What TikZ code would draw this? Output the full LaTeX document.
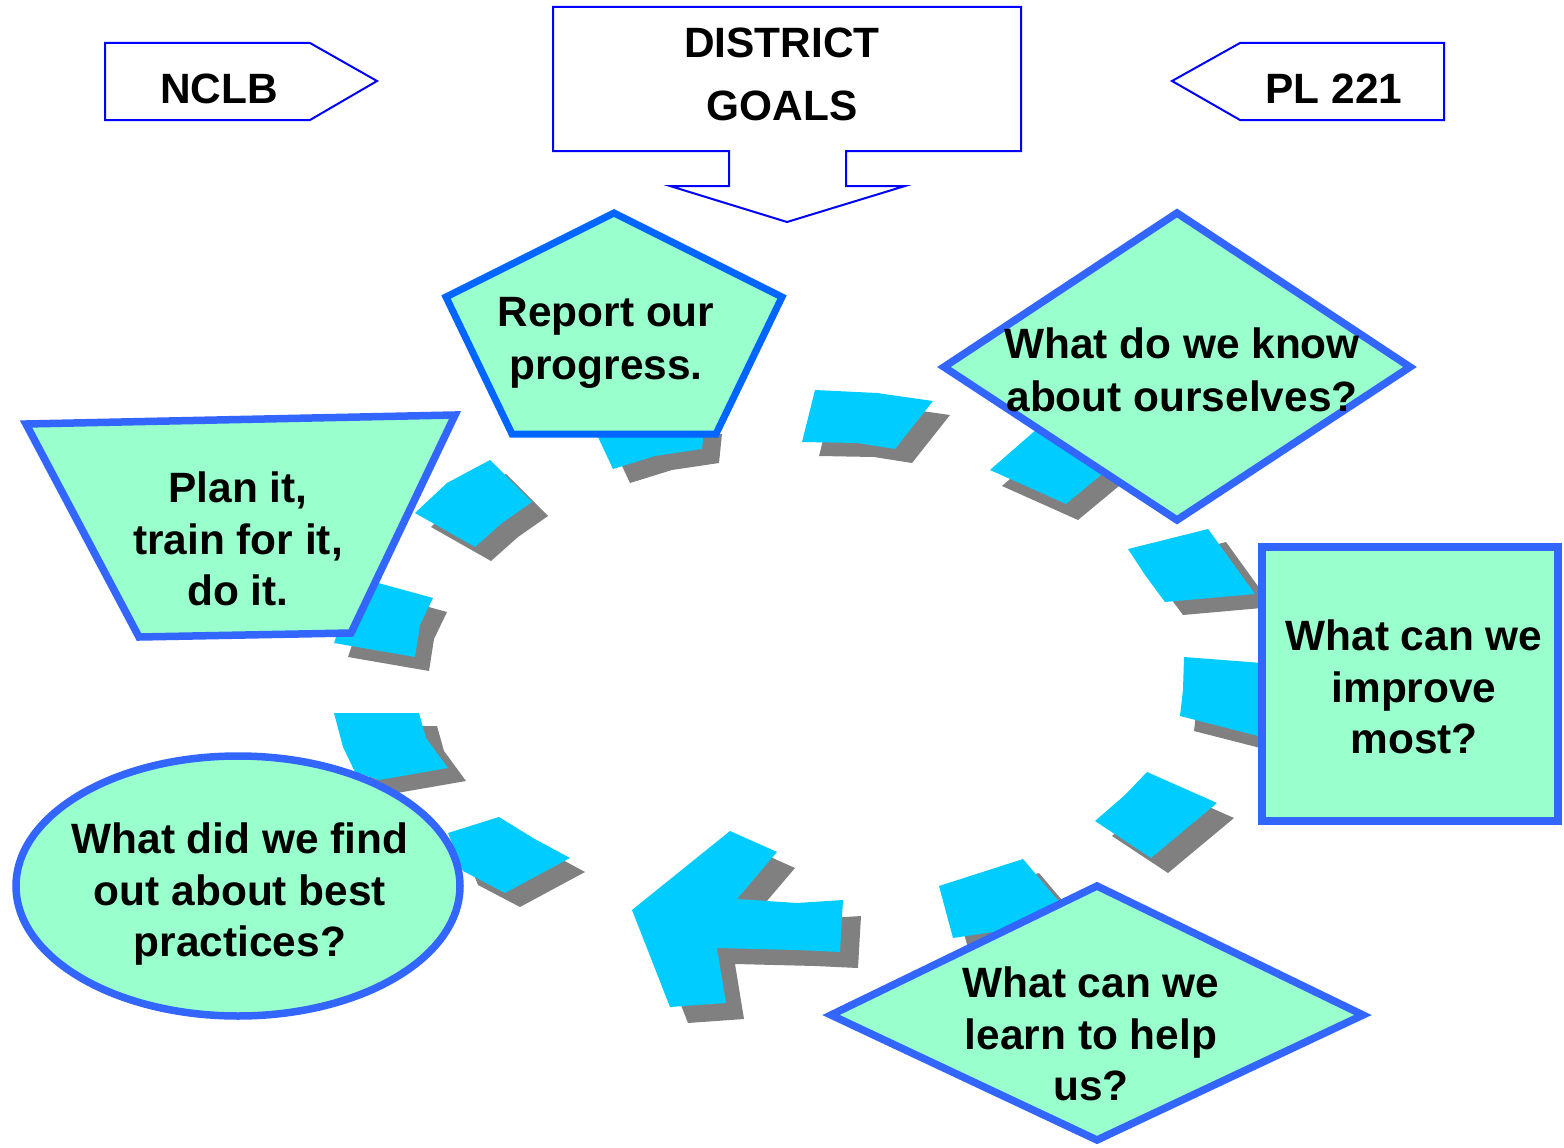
\documentclass[tikz,border=0pt]{standalone}
\usepackage{fontspec}
\setmainfont{Liberation Sans}
\definecolor{mint}{HTML}{99FFCC}
\definecolor{bord}{HTML}{3366FF}
\definecolor{pentbord}{HTML}{0066FF}
\definecolor{cyanc}{HTML}{00CCFF}
\definecolor{shad}{HTML}{808080}
\definecolor{thinblue}{HTML}{0000FF}
\newcommand\cseg[3]{\fill[shad,shift={(#1,#2)}] #3; \fill[cyanc] #3;}
\begin{document}
\begin{tikzpicture}[x=1pt,y=-1pt,
  lbl/.style={font=\fontsize{42.4}{52}\selectfont\bfseries, anchor=base, inner sep=0pt},
  topshape/.style={draw=thinblue, line width=2pt, fill=white},
  cyc/.style={draw=bord, line width=7.5pt, fill=mint},
  pent/.style={draw=pentbord, line width=7pt, fill=mint}]
\useasboundingbox (0,0) rectangle (1564,1148);
\fill[white] (0,0) rectangle (1564,1148);

% top shapes
\draw[topshape] (105,43) -- (310,43) -- (377,81) -- (310,120) -- (105,120) -- cycle;
\draw[topshape] (1444,43) -- (1240,43) -- (1172,81) -- (1240,120) -- (1444,120) -- cycle;
\draw[topshape] (553,7) -- (1021,7) -- (1021,151) -- (846,151) -- (846,186) -- (905,186) -- (787,222) -- (670,186) -- (729,186) -- (729,151) -- (553,151) -- cycle;
\node[lbl] (nclb) at (219,103) {NCLB};
\node[lbl] (pl) at (1334,103) {PL 221};
\node[lbl] (dist1) at (782,58) {DISTRICT};
\node[lbl] (dist2) at (782,120) {GOALS};

% cycle segments
\cseg{17}{14}{(590,420) -- (705,420) -- (702,449) -- (655,456) -- (613,469) -- cycle}
\cseg{17}{14}{(815,390) -- (877,393) -- (933,401) -- (895,449) -- (857,443) -- (802,442) -- cycle}
\cseg{12}{16}{(990,470) -- (1045,422) -- (1125,455) -- (1066,504) -- cycle}
\cseg{18}{13}{(1128,549) -- (1208,529) -- (1255,594) -- (1165,602) -- (1145,575) -- cycle}
\cseg{14}{15}{(1184,657) -- (1262,663) -- (1262,737) -- (1180,716) -- (1183,690) -- cycle}
\cseg{17}{15}{(1147,772) -- (1217,803) -- (1151,858) -- (1095,821) -- (1125,795) -- cycle}
\cseg{16}{14}{(939,886) -- (1023,859) -- (1062,905) -- (1040,925) -- (953,938) -- cycle}
\cseg{18}{16}{(632,910) -- (730,831) -- (777,852) -- (737,899) -- (797,903) -- (843,900) -- (840,952) -- (797,950) -- (717,948) -- (726,1003) -- (670,1007) -- cycle}
\cseg{15}{14}{(448,833) -- (499,817) -- (533,838) -- (570,858) -- (505,893) -- (463,871) -- cycle}
\cseg{18}{13}{(334,713) -- (419,713) -- (426,738) -- (448,768) -- (379,780) -- (355,772) -- (343,747) -- cycle}
\cseg{14}{14}{(360,578) -- (433,598) -- (420,625) -- (415,657) -- (334,643) -- (345,610) -- cycle}
\cseg{16}{14}{(490,460) -- (532,502) -- (502,523) -- (475,547) -- (415,513) -- (447,483) -- cycle}

% cycle shapes
\draw[pent] (614,213) -- (782,297) -- (716,434) -- (512,434) -- (446,297) -- cycle;
\draw[cyc] (1177,213) -- (1410,367) -- (1177,520) -- (944,367) -- cycle;
\draw[cyc] (1262,547) rectangle (1558,821);
\draw[cyc] (1097,886) -- (1363,1015) -- (1097,1140) -- (831,1015) -- cycle;
\draw[cyc] (238,886) ellipse [x radius=222, y radius=130];
\draw[cyc] (26,424) -- (455,415) -- (351,633) -- (139,637) -- cycle;

\node[lbl] (rep1) at (606,326) {Report our};
\node[lbl] (rep2) at (606,379) {progress.};
\node[lbl] (know1) at (1182,358) {What do we know};
\node[lbl] (know2) at (1182,411) {about ourselves?};
\node[lbl] (imp1) at (1414,650) {What can we};
\node[lbl] (imp2) at (1414,702) {improve};
\node[lbl] (imp3) at (1414,753) {most?};
\node[lbl] (learn1) at (1091,997) {What can we};
\node[lbl] (learn2) at (1091,1049) {learn to help};
\node[lbl] (learn3) at (1091,1100) {us?};
\node[lbl] (find1) at (240,853) {What did we find};
\node[lbl] (find2) at (240,905) {out about best};
\node[lbl] (find3) at (240,956) {practices?};
\node[lbl] (plan1) at (238,502) {Plan it,};
\node[lbl] (plan2) at (238,554) {train for it,};
\node[lbl] (plan3) at (238,605) {do it.};
\end{tikzpicture}
\end{document}
